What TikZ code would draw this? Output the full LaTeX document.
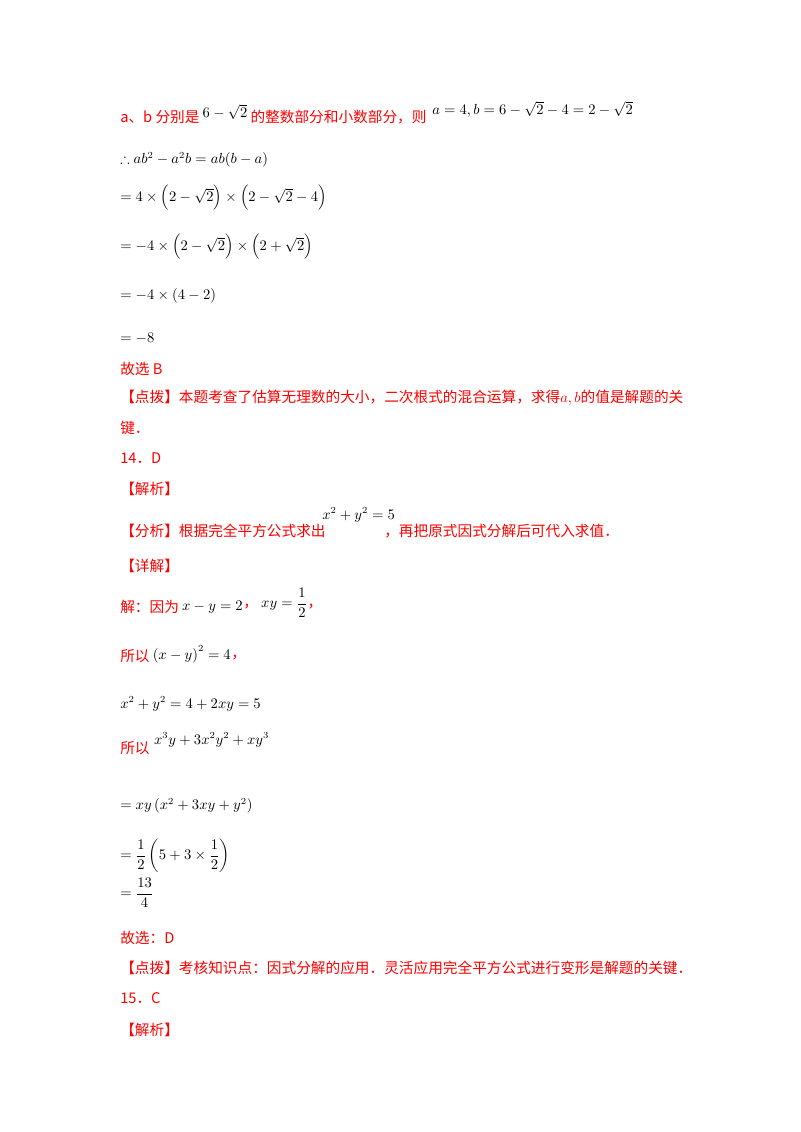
\documentclass[tikz,border=0pt]{standalone}
\usepackage{fontspec}
\usepackage{amsmath,amssymb}
\setmainfont{Liberation Serif}
\newfontfamily\cjk{Noto Sans CJK SC}
\definecolor{rd}{RGB}{255,0,0}
\tikzset{t/.style={anchor=west,inner sep=0pt,font=\fontsize{10.5}{12}\selectfont},r/.style={t,text=rd,font=\fontsize{11}{13}\selectfont\cjk},m/.style={t}}
\begin{document}
\begin{tikzpicture}[x=0.75pt,y=-0.75pt]
\useasboundingbox (0,0) rectangle (800,1132);
\node[r] (l1a) at (120,117) {\textit{a}、\textit{b} 分别是};
\node[m] (l1b) at ([xshift=2pt]l1a.east |- 0,112) {$6-\sqrt{2}$};
\node[r] (l1c) at ([xshift=2pt]l1b.east |- l1a) {的整数部分和小数部分，则};
\node[m] (l1d) at ([xshift=4pt]l1c.east |- 0,109) {$a=4, b=6-\sqrt{2}-4=2-\sqrt{2}$};
\node[m] (l2) at (120,160) {$\therefore ab^2-a^2b=ab(b-a)$};
\node[m] (l3) at (120,198) {$=4\times\left(2-\sqrt{2}\right)\times\left(2-\sqrt{2}-4\right)$};
\node[m] (l4) at (120,247) {$=-4\times\left(2-\sqrt{2}\right)\times\left(2+\sqrt{2}\right)$};
\node[m] (l5) at (120,296) {$=-4\times\left(4-2\right)$};
\node[m] (l6) at (120,338) {$=-8$};
\node[r] (l7) at (120,369) {故选 B};
\node[r] (l8) at (120,398) {【点拨】本题考查了估算无理数的大小，二次根式的混合运算，求得$a,b$的值是解题的关};
\node[r] (l9) at (120,428) {键．};
\node[r] (l10) at (120,458) {14．D};
\node[r] (l11) at (120,489) {【解析】};
\node[r] (l12a) at (120,531) {【分析】根据完全平方公式求出};
\node[m] (l12b) at (322,515) {$x^2+y^2=5$};
\node[r] (l12c) at (384,531) {，再把原式因式分解后可代入求值．};
\node[r] (l13) at (120,566) {【详解】};
\node[r] (l14a) at (120,607) {解：因为};
\node[m] (l14b) at ([xshift=2pt]l14a.east) {$x-y=2$};
\node[r] (l14c) at (l14b.east |- l14a) {，};
\node[m] (l14d) at ([xshift=2pt]l14c.east |- 0,603) {$xy=\dfrac{1}{2}$};
\node[r] (l14e) at (l14d.east |- l14a) {，};
\node[r] (l15a) at (120,656) {所以};
\node[m] (l15b) at ([xshift=2pt]l15a.east |- 0,654) {$\left(x-y\right)^2=4$};
\node[r] (l15c) at (l15b.east |- 0,658) {，};
\node[m] (l16) at (120,704) {$x^2+y^2=4+2xy=5$};
\node[r] (l17a) at (120,748) {所以};
\node[m] (l17b) at ([xshift=3pt]l17a.east |- 0,740) {$x^3y+3x^2y^2+xy^3$};
\node[m] (l18) at (120,806) {$=xy\left(x^2+3xy+y^2\right)$};
\node[m] (l19) at (120,856) {$=\dfrac{1}{2}\left(5+3\times\dfrac{1}{2}\right)$};
\node[m] (l20) at (120,893) {$=\dfrac{13}{4}$};
\node[r] (l21) at (120,938) {故选：D};
\node[r] (l22) at (120,968) {【点拨】考核知识点：因式分解的应用．灵活应用完全平方公式进行变形是解题的关键．};
\node[r] (l23) at (120,998) {15．C};
\node[r] (l24) at (120,1030) {【解析】};
\end{tikzpicture}
\end{document}
